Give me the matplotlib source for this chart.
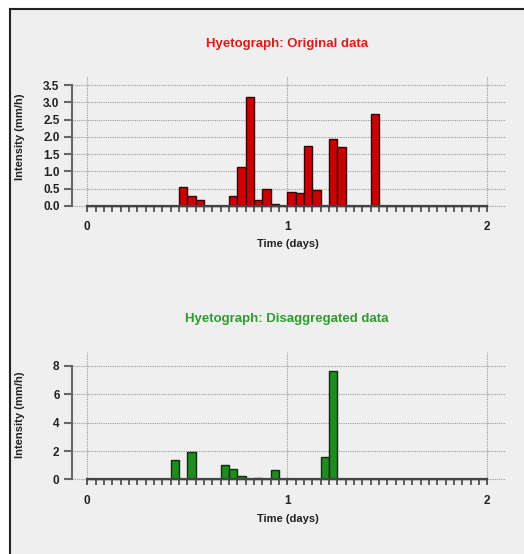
import matplotlib
matplotlib.use("Agg")
import matplotlib.pyplot as plt
from matplotlib.patches import Rectangle
from matplotlib.lines import Line2D
from matplotlib.ticker import FixedLocator

# ---- data (hourly intensities, mm/h) ----
hours = list(range(48))
orig_nonzero = {11: 0.55, 12: 0.27, 13: 0.17, 17: 0.28, 18: 1.12, 19: 3.17,
                20: 0.18, 21: 0.49, 22: 0.06, 24: 0.40, 25: 0.36, 26: 1.73,
                27: 0.47, 29: 1.94, 30: 1.72, 34: 2.67}
disagg_nonzero = {10: 1.36, 12: 1.92, 13: 0.02, 16: 1.05, 17: 0.76, 18: 0.21,
                  19: 0.03, 20: 0.13, 22: 0.68, 26: 0.05, 28: 1.60, 29: 7.62}
original = [orig_nonzero.get(h, 0.0) for h in hours]
disaggregated = [disagg_nonzero.get(h, 0.0) for h in hours]
x_ticks = [0, 1, 2]
y_ticks_top = [0.0, 0.5, 1.0, 1.5, 2.0, 2.5, 3.0, 3.5]
y_ticks_bot = [0, 2, 4, 6, 8]

W, H = 524, 554
fig = plt.figure(figsize=(W / 100, H / 100), dpi=100, facecolor="white")
plt.rcParams["font.family"] = ["Liberation Sans", "DejaVu Sans"]

# panel background and left/top frame lines
fig.patches.append(Rectangle((10 / W, -0.1), 1.2, 1.1 - 9 / H, transform=fig.transFigure,
                             facecolor="#efefef", edgecolor="none", zorder=-10))
fig.lines.append(Line2D([10 / W, 10 / W], [0, 1 - 9 / H], transform=fig.transFigure,
                        color="#222222", lw=1.5))
fig.lines.append(Line2D([10 / W, 1], [1 - 9 / H, 1 - 9 / H], transform=fig.transFigure,
                        color="#222222", lw=1.5))

def px_axes(l, t, r, b):
    return fig.add_axes([l / W, 1 - b / H, (r - l) / W, (b - t) / H])

def style(ax, values, color, edge, yticks, ylim, yfmt):
    ax.set_facecolor("none")
    x = [h / 24 for h in hours]
    ax.bar(x, values, width=1 / 24, align="edge", color=color,
           edgecolor=edge, linewidth=1.0, zorder=3)
    ax.set_xlim(-0.0765, 2.0935)
    ax.set_ylim(*ylim)
    for s in ["top", "right"]:
        ax.spines[s].set_visible(False)
    ax.spines["left"].set_bounds(yticks[0], yticks[-1])
    ax.spines["left"].set_color("#666666")
    ax.spines["left"].set_linewidth(1.5)
    ax.spines["bottom"].set_position(("data", 0))
    ax.spines["bottom"].set_bounds(0, 2)
    ax.spines["bottom"].set_color("#444444")
    ax.spines["bottom"].set_linewidth(1.6)
    ax.spines["bottom"].set_zorder(4)
    ax.xaxis.set_major_locator(FixedLocator(x_ticks))
    ax.xaxis.set_minor_locator(FixedLocator([h / 24 for h in range(49)]))
    ax.set_yticks(yticks)
    ax.set_yticklabels([yfmt.format(v) for v in yticks])
    ax.set_xticklabels([str(v) for v in x_ticks])
    ax.tick_params(axis="x", which="both", direction="out", length=4, width=1.2,
                   color="#444444", pad=7, labelsize=8.5)
    ax.tick_params(axis="y", direction="out", length=6, width=1.5, color="#666666",
                   pad=3, labelsize=8.5)
    for lab in ax.get_xticklabels() + ax.get_yticklabels():
        lab.set_fontweight("bold")
        lab.set_color("#222222")
    ax.grid(True, which="major", linestyle=(0, (1, 1)), color="#9a9a9a", linewidth=0.8, zorder=0)
    ax.set_axisbelow(True)

ax1 = px_axes(72, 76, 506, 210.7)
style(ax1, original, "#cc0000", "#3a0000", y_ticks_top, (-0.145, 3.77), "{:.1f}")
ax2 = px_axes(72, 351.7, 506, 484)
style(ax2, disaggregated, "#1f8c1f", "#0a300a", y_ticks_bot, (-0.32, 9.0), "{:d}")

fig.text(287 / W, 1 - 44 / H, "Hyetograph: Original data", color="#d91c1c",
         fontsize=9.5, fontweight="bold", ha="center", va="center")
fig.text(287 / W, 1 - 319 / H, "Hyetograph: Disaggregated data", color="#2f9a2f",
         fontsize=9.5, fontweight="bold", ha="center", va="center")
for yc in (244, 519):
    fig.text(288 / W, 1 - yc / H, "Time (days)", color="#222222", fontsize=8,
             fontweight="bold", ha="center", va="center")
for yc in (137, 415):
    fig.text(20 / W, 1 - yc / H, "Intensity (mm/h)", color="#222222", fontsize=8,
             fontweight="bold", ha="center", va="center", rotation=90)

fig.savefig("out.png", dpi=100, facecolor="white")
